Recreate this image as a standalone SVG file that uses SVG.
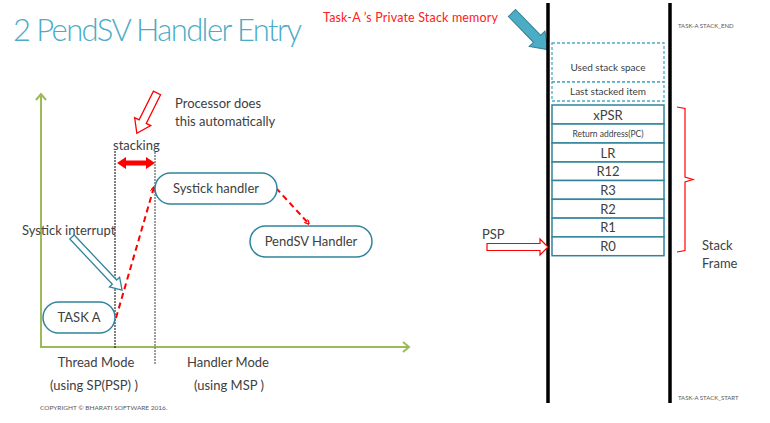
<svg xmlns="http://www.w3.org/2000/svg" width="770" height="423" viewBox="0 0 770 423">
<defs>
<style>
text{font-family:Lato,"Open Sans","Liberation Sans",sans-serif;fill:#404040}
.t13{font-size:13px}
.pill{fill:#fff;stroke:#31849B;stroke-width:1.5}
.cell{fill:#fff;stroke:#31849B;stroke-width:1.5}
.dcell{fill:#fff;stroke:#4BACC6;stroke-width:1.3;stroke-dasharray:3,2}
.axis{stroke:#9BBB59;stroke-width:2;fill:none}
.rdash{stroke:#FF0000;stroke-width:2;stroke-dasharray:6,4;fill:none}
.small{font-size:6.5px;fill:#595959}
</style>
<marker id="rh" viewBox="0 0 10 10" refX="9" refY="5" markerWidth="5" markerHeight="5" orient="auto" markerUnits="userSpaceOnUse">
<path d="M0,0 L10,5 L0,10" fill="none" stroke="#FF0000" stroke-width="2.5"/>
</marker>
</defs>
<rect width="770" height="423" fill="#fff"/>

<text x="13" y="41" style="font-size:31px;fill:#4BACC6;font-weight:300" textLength="289">2 PendSV Handler Entry</text>

<g id="axes">
<line class="axis" x1="41" y1="94" x2="41" y2="347"/>
<line class="axis" x1="40" y1="347" x2="409" y2="347"/>
<polyline class="axis" points="36,100 41,94 46,100"/>
<polyline class="axis" points="403,342 409,347 403,352"/>
</g>

<g id="guides">
<line x1="115" y1="151" x2="115" y2="348" stroke="#000" stroke-width="1" stroke-dasharray="2,1"/>
<line x1="155" y1="152" x2="155" y2="364" stroke="#7f7f7f" stroke-width="1.5" stroke-dasharray="2,1"/>
</g>

<g id="stacking">
<text class="t13" x="113" y="150">stacking</text>
<polygon fill="#FF0000" points="117,163 126,157 126,160.5 146,160.5 146,157 155,163 146,169 146,165.5 126,165.5 126,169"/>
</g>

<g id="processor-note">
<polygon transform="translate(157,93) rotate(116.6)" fill="#fff" stroke="#FF0000" stroke-width="1.3" points="0,-4 32,-4 32,-9 45,0 32,9 32,4 0,4"/>
<text class="t13" x="175" y="108">Processor does</text>
<text class="t13" x="175" y="126">this automatically</text>
</g>

<g id="connectors">
<line class="rdash" x1="116" y1="318" x2="154" y2="187" marker-end="url(#rh)"/>
<line class="rdash" x1="276" y1="188" x2="309" y2="224" marker-end="url(#rh)"/>
</g>

<g id="systick-handler">
<rect class="pill" x="155" y="173" width="122" height="31" rx="15.5"/>
<text class="t13" x="216" y="193" text-anchor="middle">Systick handler</text>
</g>

<g id="pendsv-handler">
<rect class="pill" x="250" y="226" width="122" height="31" rx="15.5"/>
<text class="t13" x="311" y="246" text-anchor="middle">PendSV Handler</text>
</g>

<g id="task-a">
<rect class="pill" x="43" y="302" width="72" height="31" rx="15.5"/>
<text class="t13" x="79" y="322" text-anchor="middle">TASK A</text>
</g>

<g id="systick-interrupt">
<text class="t13" x="22" y="235">Systick interrupt</text>
<polygon transform="translate(72,237) rotate(46.7)" fill="#fff" stroke="#31849B" stroke-width="1.3" points="0,-3 62,-3 62,-7 73,0 62,7 62,3 0,3"/>
</g>

<g id="mode-labels">
<text class="t13" x="96" y="367" text-anchor="middle">Thread Mode</text>
<text class="t13" x="94" y="390" text-anchor="middle">(using SP(PSP) )</text>
<text class="t13" x="228" y="367" text-anchor="middle">Handler Mode</text>
<text class="t13" x="229" y="390" text-anchor="middle">(using MSP )</text>
</g>

<text class="small" x="40" y="410">COPYRIGHT © BHARATI SOFTWARE 2016.</text>

<g id="stack-memory">
<text x="323" y="22" style="font-size:12.5px;fill:#FF2020" textLength="175">Task-A ’s Private Stack memory</text>
<polygon transform="translate(512,13) rotate(45.8)" fill="#4BACC6" stroke="#357D91" stroke-width="1" points="0,-5 36,-5 36,-11 51,0 36,11 36,5 0,5"/>
<line x1="548" y1="3" x2="548" y2="403" stroke="#000" stroke-width="3.5"/>
<line x1="670" y1="3" x2="670" y2="403" stroke="#000" stroke-width="3.5"/>
<text class="small" x="678" y="28" style="font-size:6px">TASK-A STACK_END</text>
<text class="small" x="678" y="400" style="font-size:6px">TASK-A STACK_START</text>
</g>

<g id="used-stack">
<rect class="dcell" x="552" y="43" width="112" height="39"/>
<text x="608" y="71" text-anchor="middle" style="font-size:10px">Used stack space</text>
</g>
<g id="last-stacked">
<rect class="dcell" x="552" y="82" width="112" height="19"/>
<text x="608" y="95" text-anchor="middle" style="font-size:10px">Last stacked item</text>
</g>

<g id="stack-frame">
<rect class="cell" x="552" y="105" width="112" height="19"/>
<text class="t13" x="608" y="120" text-anchor="middle">xPSR</text>
<rect class="cell" x="552" y="124" width="112" height="19"/>
<text x="608" y="137" text-anchor="middle" style="font-size:8.5px">Return address(PC)</text>
<rect class="cell" x="552" y="143" width="112" height="19"/>
<text class="t13" x="608" y="158" text-anchor="middle">LR</text>
<rect class="cell" x="552" y="162" width="112" height="18.5"/>
<text class="t13" x="608" y="176" text-anchor="middle">R12</text>
<rect class="cell" x="552" y="180.5" width="112" height="18.8"/>
<text class="t13" x="608" y="195" text-anchor="middle">R3</text>
<rect class="cell" x="552" y="199.3" width="112" height="18.8"/>
<text class="t13" x="608" y="214" text-anchor="middle">R2</text>
<rect class="cell" x="552" y="218.1" width="112" height="18.8"/>
<text class="t13" x="608" y="232" text-anchor="middle">R1</text>
<rect class="cell" x="552" y="236.9" width="112" height="18.8"/>
<text class="t13" x="608" y="251" text-anchor="middle">R0</text>
</g>

<g id="brace">
<polyline fill="none" stroke="#FF0000" stroke-width="1.2" points="677,107 685,108.5 685,177 693,179.5 685,182 685,250.5 677,252"/>
<text class="t13" x="702" y="250">Stack</text>
<text class="t13" x="702" y="268">Frame</text>
</g>

<g id="psp">
<text class="t13" x="482" y="239">PSP</text>
<polygon fill="#fff" stroke="#FF0000" stroke-width="1.2" points="487,243.5 540,243.5 540,239 548,247 540,255 540,250.5 487,250.5"/>
</g>
</svg>
